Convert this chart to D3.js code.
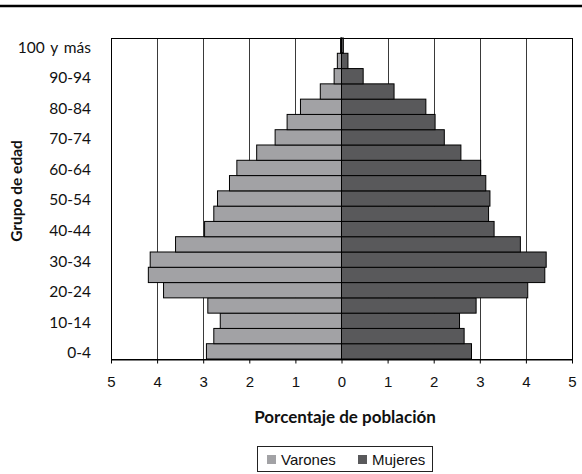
<!DOCTYPE html>
<html>
<head>
<meta charset="utf-8">
<script src="https://cdn.jsdelivr.net/npm/d3@7"></script>
<style>
  html, body { margin: 0; padding: 0; background: #fff; }
  svg { display: block; }
</style>
</head>
<body>
<svg id="chart" width="582" height="474"></svg>
<script>
const categories = ["0-4","5-9","10-14","15-19","20-24","25-29","30-34","35-39","40-44","45-49","50-54","55-59","60-64","65-69","70-74","75-79","80-84","85-89","90-94","95-99","100 y más"];
const varones = [2.93, 2.77, 2.63, 2.90, 3.86, 4.19, 4.15, 3.60, 2.97, 2.77, 2.69, 2.43, 2.27, 1.84, 1.44, 1.18, 0.89, 0.46, 0.16, 0.09, 0.02];
const mujeres = [2.82, 2.66, 2.56, 2.92, 4.04, 4.41, 4.44, 3.88, 3.31, 3.19, 3.22, 3.13, 3.02, 2.59, 2.23, 2.03, 1.83, 1.14, 0.47, 0.14, 0.04];
const xTicks = [-5, -4, -3, -2, -1, 0, 1, 2, 3, 4, 5];
const yLabels = ["0-4","10-14","20-24","30-34","40-44","50-54","60-64","70-74","80-84","90-94","100 y más"];
const seriesNames = ["Varones", "Mujeres"];
const seriesColors = ["#a2a2a5", "#59595b"];

const svg = d3.select("#chart");
const pLeft = 111, pRight = 572, pTop = 38, pBottom = 359;

const x = d3.scaleLinear().domain([-5, 5]).range([pLeft, pRight]);
const y = d3.scaleBand().domain(categories.slice().reverse()).range([pTop, pBottom]).padding(0);

// top rule
svg.append("line").attr("x1", 0).attr("x2", 582).attr("y1", 6).attr("y2", 6)
  .attr("stroke", "#000").attr("stroke-width", 2.5);

// gridlines
svg.append("g").selectAll("line").data(xTicks).join("line")
  .attr("x1", d => Math.round(x(d)) + 0.5).attr("x2", d => Math.round(x(d)) + 0.5)
  .attr("y1", pTop).attr("y2", pBottom)
  .attr("stroke", "#3a3a3a").attr("stroke-width", 1);

// frame
svg.append("rect").attr("x", pLeft + 0.5).attr("y", pTop + 0.5)
  .attr("width", pRight - pLeft).attr("height", pBottom - pTop)
  .attr("fill", "none").attr("stroke", "#000").attr("stroke-width", 1);

// bars
const rows = categories.map((c, i) => ({c, v: varones[i], m: mujeres[i]}));
const gb = svg.append("g");
gb.selectAll("rect.v").data(rows).join("rect").attr("class", "v")
  .attr("x", d => x(-d.v)).attr("width", d => x(0) - x(-d.v))
  .attr("y", d => y(d.c)).attr("height", y.bandwidth())
  .attr("fill", seriesColors[0]).attr("stroke", "#000").attr("stroke-width", 1);
gb.selectAll("rect.m").data(rows).join("rect").attr("class", "m")
  .attr("x", x(0)).attr("width", d => x(d.m) - x(0))
  .attr("y", d => y(d.c)).attr("height", y.bandwidth())
  .attr("fill", seriesColors[1]).attr("stroke", "#000").attr("stroke-width", 1);

// x axis
const xAxis = svg.append("g").attr("transform", `translate(0,${pBottom + 0.5})`)
  .call(d3.axisBottom(x).tickValues(xTicks).tickFormat(d => Math.abs(d)).tickSize(4).tickPadding(13).tickSizeOuter(0));
xAxis.select(".domain").attr("stroke", "#000");
xAxis.selectAll(".tick line").attr("stroke", "#000");
xAxis.selectAll("text").attr("font-family", "'Liberation Sans', Arial, sans-serif").attr("font-size", 15).attr("fill", "#111");

// y axis
const yAxis = svg.append("g").attr("transform", `translate(${pLeft},0)`)
  .call(d3.axisLeft(y).tickValues(yLabels).tickSize(0).tickPadding(20));
yAxis.select(".domain").remove();
yAxis.selectAll("text").attr("font-family", "Lato, sans-serif").attr("font-size", 15.5)
  .attr("word-spacing", "2px").attr("dy", "0.45em").attr("fill", "#111");

// axis titles
svg.append("text").attr("x", 345).attr("y", 417).attr("text-anchor", "middle").attr("dy", "0.35em")
  .attr("font-family", "Lato, sans-serif").attr("font-weight", "bold").attr("font-size", 17).attr("fill", "#111")
  .text("Porcentaje de población");
svg.append("text").attr("transform", "translate(17,191) rotate(-90)").attr("text-anchor", "middle").attr("dy", "0.35em")
  .attr("font-family", "Lato, sans-serif").attr("font-weight", "bold").attr("font-size", 15.5).attr("fill", "#111")
  .text("Grupo de edad");

// legend
const lg = svg.append("g");
lg.append("rect").attr("x", 257.5).attr("y", 446.5).attr("width", 175).attr("height", 25)
  .attr("fill", "#fff").attr("stroke", "#222").attr("stroke-width", 1);
const legendX = [267, 358];
seriesNames.forEach((n, i) => {
  lg.append("rect").attr("x", legendX[i]).attr("y", 455).attr("width", 9).attr("height", 9)
    .attr("fill", seriesColors[i]);
  lg.append("text").attr("x", legendX[i] + 14).attr("y", 460).attr("dy", "0.35em")
    .attr("font-family", "'Liberation Sans', Arial, sans-serif").attr("font-size", 15).attr("fill", "#111")
    .text(n);
});
</script>
</body>
</html>
